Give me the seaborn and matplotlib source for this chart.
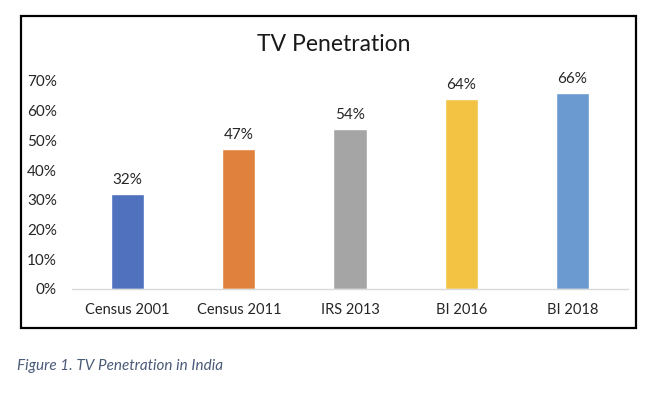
import matplotlib
matplotlib.use("Agg")
import matplotlib.pyplot as plt
import seaborn as sns
import pandas as pd
from matplotlib.patches import Rectangle
from matplotlib.ticker import PercentFormatter

categories = ["Census 2001", "Census 2011", "IRS 2013", "BI 2016", "BI 2018"]
values = [0.32, 0.47, 0.54, 0.64, 0.66]
colors = ["#4f71be", "#e0823d", "#a5a5a5", "#f3c343", "#6a9ad0"]
yticks = [0, 0.1, 0.2, 0.3, 0.4, 0.5, 0.6, 0.7]

sns.set_theme(style="white")
plt.rcParams["font.family"] = ["Lato", "DejaVu Sans"]

df = pd.DataFrame({"cat": categories, "val": values})

fig = plt.figure(figsize=(6.67, 3.98), dpi=100)
ax = fig.add_axes([0.108, 0.274, 0.8335, 0.5225])
sns.barplot(data=df, x="cat", y="val", hue="cat", palette=colors,
            width=0.3, legend=False, ax=ax, saturation=1)

ax.set_ylim(0, 0.7)
ax.set_yticks(yticks)
ax.yaxis.set_major_formatter(PercentFormatter(1.0, decimals=0))
ax.set_xlabel("")
ax.set_ylabel("")
for s in ["top", "right", "left"]:
    ax.spines[s].set_visible(False)
ax.spines["bottom"].set_color("#d9d9d9")
ax.spines["bottom"].set_linewidth(1)
ax.tick_params(axis="both", length=0, colors="#262626")
ax.tick_params(axis="y", pad=11, labelsize=11)
ax.tick_params(axis="x", pad=10, labelsize=10.5)

for c in ax.containers:
    ax.bar_label(c, labels=[f"{v*100:.0f}%" for v in c.datavalues],
                 padding=5, fontsize=11, color="#262626")

fig.text(0.5, 0.887, "TV Penetration", ha="center", va="center",
         fontsize=16.5, color="#1a1a1a")

fig.patches.append(Rectangle((21/667, 1-328/398), (636-21)/667, (328-16)/398,
                             transform=fig.transFigure, fill=False,
                             edgecolor="black", linewidth=1.6))

fig.text(17/667, 1-366/398, "Figure 1. TV Penetration in India", ha="left",
         va="center", fontsize=11, style="italic", color="#4a5b78")

fig.savefig("out.png", dpi=100)
